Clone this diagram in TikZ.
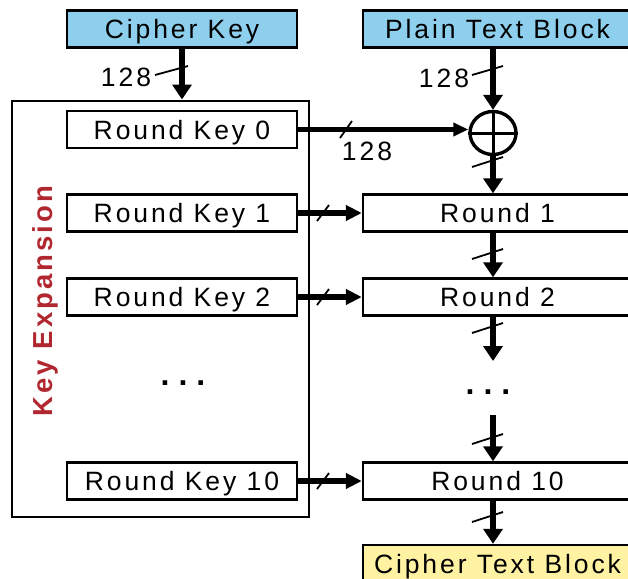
\documentclass[tikz,border=0pt]{standalone}
\usepackage{fontspec}
\usetikzlibrary{arrows.meta,shapes.geometric}
\newfontfamily\boxfont{Liberation Sans}[LetterSpace=11]
\newfontfamily\dotfont{Liberation Sans}[LetterSpace=28]
\definecolor{keyblue}{HTML}{8ECFEE}
\definecolor{outyellow}{HTML}{FFF2A3}
\definecolor{expred}{HTML}{B0272F}
\tikzset{
  blockbox/.style={draw=black, line width=2.4pt, inner sep=0pt, minimum height=37pt,
    text height=19pt, text depth=0pt,
    font=\boxfont\fontsize{26.5}{30}\selectfont},
  keybox/.style={blockbox, minimum width=230pt},
  roundbox/.style={blockbox, minimum width=269pt},
  thickarrow/.style={line width=6.5pt, -{Triangle[width=19pt,length=15pt]}},
  sidearrow/.style={line width=6.5pt, -{Triangle[width=15pt,length=16pt]}},
  busmark/.style={line width=1.8pt},
  buslabel/.style={inner sep=0pt, font=\boxfont\fontsize{26.5}{30}\selectfont},
  dots/.style={inner sep=0pt, font=\dotfont\bfseries\fontsize{32}{34}\selectfont}
}
\begin{document}
\begin{tikzpicture}[x=1pt,y=-1pt]
\useasboundingbox (0,0) rectangle (628,578);

% input blocks
\node[keybox, fill=keyblue] (ck) at (182,29) {Cipher Key};
\node[roundbox, fill=keyblue] (pt) at (497.5,29) {Plain Text Block};

% key expansion frame and its round keys
\node[draw, line width=2pt, minimum width=297pt, minimum height=416pt, inner sep=0pt] (ke) at (160.5,308.5) {};
\node[rotate=90, inner sep=0pt, text=expred, font=\boxfont\bfseries\fontsize{27.5}{30}\selectfont] (kel) at (45,301) {Key Expansion};
\node[keybox] (rk0) at (182,129.5) {Round Key 0};
\node[keybox] (rk1) at (182,213) {Round Key 1};
\node[keybox] (rk2) at (182,297) {Round Key 2};
\node[dots] (kd) at (183,383) {...};
\node[keybox] (rk10) at (182,481) {Round Key 10};

% XOR of plaintext and round key 0
\node[draw, ellipse, line width=3.4pt, minimum width=46pt, minimum height=43pt, inner sep=0pt] (xor) at (493,133) {};
\draw[line width=3pt] (xor.north) -- (xor.south) (xor.west) -- (xor.east);

% round chain
\node[roundbox] (r1) at (497.5,213) {Round 1};
\node[roundbox] (r2) at (497.5,297) {Round 2};
\node[dots] (rd) at (488,392) {...};
\node[roundbox] (r10) at (497.5,481) {Round 10};
\node[roundbox, fill=outyellow] (ct) at (497.5,563.5) {Cipher Text Block};

% data paths
\draw[thickarrow] (ck) -- (ck |- ke.north);
\draw[thickarrow] (xor |- pt.south) -- (xor.north);
\draw[line width=5pt, -{Triangle[width=13pt,length=15pt]}] (rk0.east) -- (xor.west |- rk0.east);
\draw[thickarrow] (xor.south) -- (xor |- r1.north);
\draw[thickarrow] (r1.south -| xor) -- (xor |- r2.north);
\coordinate (dtop) at (493,361);
\coordinate (dbot) at (493,415);
\draw[thickarrow] (r2.south -| xor) -- (dtop);
\draw[thickarrow] (dbot) -- (xor |- r10.north);
\draw[thickarrow] (r10.south -| xor) -- (xor |- ct.north);
\draw[sidearrow] (rk1) -- (r1);
\draw[sidearrow] (rk2) -- (r2);
\draw[sidearrow] (rk10) -- (r10);

% bus width marks
\draw[busmark] (155,75) -- (188,66);
\draw[busmark] (472,75) -- (503,66);
\draw[busmark] (340,138) -- (352,121);
\draw[busmark] (472,167) -- (503,157);
\draw[busmark] (472,259) -- (503,249);
\draw[busmark] (472,333) -- (503,323);
\draw[busmark] (472,444) -- (503,434);
\draw[busmark] (472,522) -- (503,512);
\draw[busmark] (317,221) -- (329,205);
\draw[busmark] (317,305) -- (329,289);
\draw[busmark] (317,489) -- (329,473);
\node[buslabel] (l1) at (126,77) {128};
\node[buslabel] (l2) at (444,78) {128};
\node[buslabel] (l3) at (367,151) {128};
\end{tikzpicture}
\end{document}
